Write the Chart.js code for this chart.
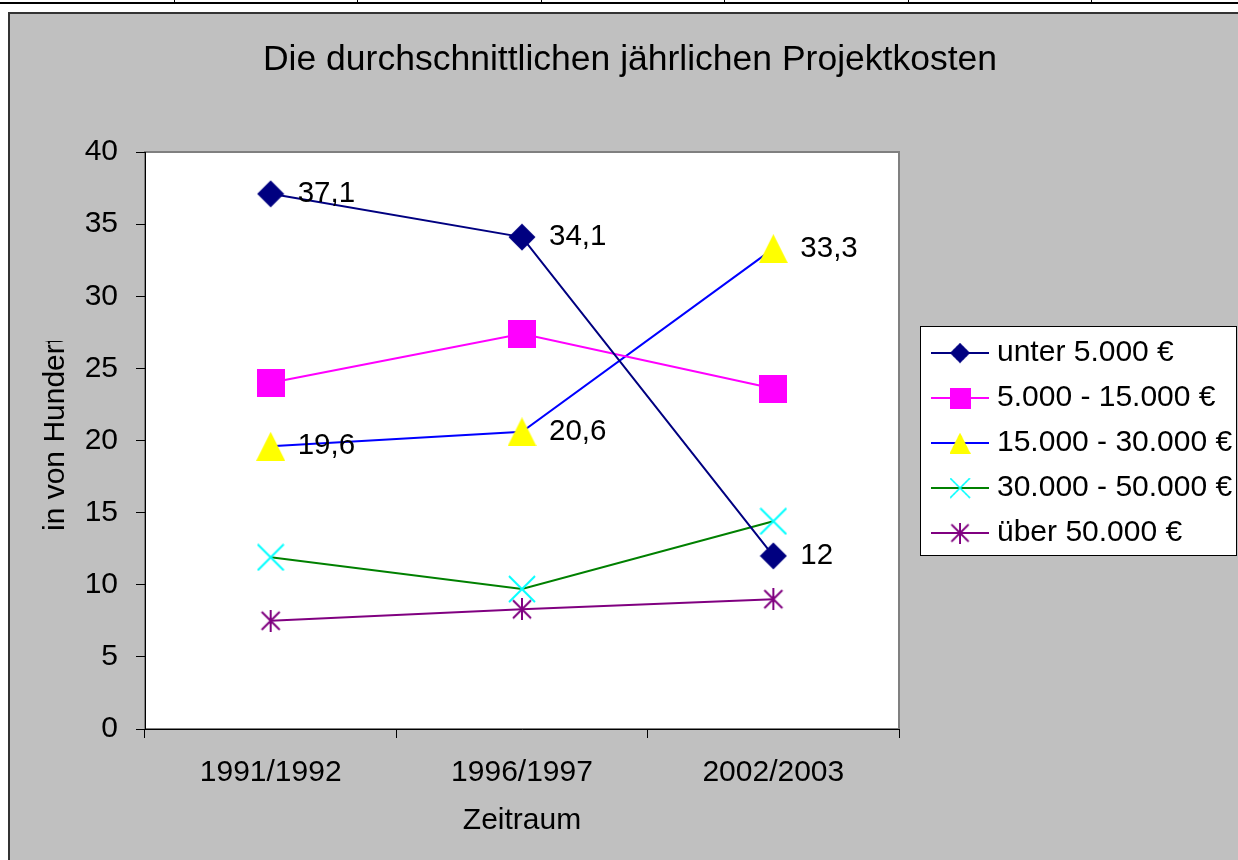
<!DOCTYPE html>
<html lang="de">
<head>
<meta charset="utf-8">
<title>Projektkosten</title>
<script src="https://cdn.jsdelivr.net/npm/chart.js@4/dist/chart.umd.min.js"></script>
<style>
  body { margin: 0; background: #fff; width: 1238px; height: 860px; overflow: hidden; position: relative; }
  .strip { position: absolute; left: 0; top: 0; width: 1238px; height: 2px; border-bottom: 2px solid #000; }
  .strip span { position: absolute; top: 0; width: 1px; height: 3px; background: #000; }
  .frame {
    position: absolute; left: 8px; top: 12px; right: 0; bottom: 0;
    background: #c0c0c0; border-left: 2px solid #333; border-top: 2px solid #333;
  }
  canvas { position: absolute; left: 0; top: 0; }
</style>
</head>
<body>
<div class="strip">
  <span style="left:174px"></span><span style="left:357px"></span><span style="left:541px"></span>
  <span style="left:724px"></span><span style="left:908px"></span><span style="left:1091px"></span>
</div>
<div class="frame"><canvas id="chart" width="1228" height="846"></canvas></div>
<script>
"use strict";

// ? values (in von Hundert)
const periods = ["1991/1992", "1996/1997", "2002/2003"];
const unter5000 = [37.1, 34.1, 12];
const von5000bis15000 = [24, 27.4, 23.6];
const von15000bis30000 = [19.6, 20.6, 33.3];
const von30000bis50000 = [11.9, 9.7, 14.4];
const ueber50000 = [7.5, 8.3, 9.0];

const seriesNames = [
  "unter 5.000 €",
  "5.000 - 15.000 €",
  "15.000 - 30.000 €",
  "30.000 - 50.000 €",
  "über 50.000 €",
];
const labelledSeries = [0, 2]; //! only these get value labels

const yMin = 0;
const yMax = 40;
const yStep = 5;

const FONT = "'Liberation Sans', Arial, sans-serif";

// marker images, drawn once and handed to chart.js as pointStyle
function marker(w, h, paint) {
  const c = document.createElement("canvas");
  c.width = w;
  c.height = h;
  paint(c.getContext("2d"), w, h);
  return c;
}

const diamond = marker(28, 28, (ctx, w, h) => {
  ctx.fillStyle = "#000080";
  ctx.beginPath();
  ctx.moveTo(w / 2, 0.5);
  ctx.lineTo(w - 0.5, h / 2);
  ctx.lineTo(w / 2, h - 0.5);
  ctx.lineTo(0.5, h / 2);
  ctx.closePath();
  ctx.fill();
});
const square = marker(28, 28, (ctx, w, h) => {
  ctx.fillStyle = "#ff00ff";
  ctx.fillRect(0, 0, w, h);
});
const triangle = marker(29, 29, (ctx, w, h) => {
  ctx.fillStyle = "#ffff00";
  ctx.beginPath();
  ctx.moveTo(w / 2, 0);
  ctx.lineTo(w, h);
  ctx.lineTo(0, h);
  ctx.closePath();
  ctx.fill();
});
const cross = marker(28, 28, (ctx, w, h) => {
  ctx.strokeStyle = "#00ffff";
  ctx.lineWidth = 2;
  ctx.beginPath();
  ctx.moveTo(1, 1);
  ctx.lineTo(w - 1, h - 1);
  ctx.moveTo(w - 1, 1);
  ctx.lineTo(1, h - 1);
  ctx.stroke();
});
const star = marker(22, 22, (ctx, w, h) => {
  ctx.strokeStyle = "#800080";
  ctx.lineWidth = 2;
  ctx.beginPath();
  ctx.moveTo(w / 2, 0);
  ctx.lineTo(w / 2, h);
  ctx.moveTo(2, 2);
  ctx.lineTo(w - 2, h - 2);
  ctx.moveTo(w - 2, 2);
  ctx.lineTo(2, h - 2);
  ctx.stroke();
});

const lineColors = ["#000080", "#ff00ff", "#0000ff", "#008000", "#800080"];
const markers = [diamond, square, triangle, cross, star];
const seriesValues = [unter5000, von5000bis15000, von15000bis30000, von30000bis50000, ueber50000];

const datasets = seriesValues.map((values, i) => ({
  label: seriesNames[i],
  data: values,
  borderColor: lineColors[i],
  backgroundColor: lineColors[i],
  borderWidth: 2,
  tension: 0,
  fill: false,
  pointStyle: markers[i],
  pointRadius: 12,
  pointHoverRadius: 12,
}));

// white plot area with the grey frame
const plotBackground = {
  id: "plotBackground",
  beforeDraw(chart) {
    const { ctx, chartArea: a } = chart;
    ctx.save();
    ctx.fillStyle = "#fff";
    ctx.fillRect(a.left, a.top, a.width, a.height);
    ctx.strokeStyle = "#808080";
    ctx.lineWidth = 2;
    ctx.strokeRect(a.left, a.top, a.width, a.height);
    ctx.restore();
  },
};

// "37,1" etc. to the right of the markers
const valueLabels = {
  id: "valueLabels",
  afterDatasetsDraw(chart) {
    const ctx = chart.ctx;
    ctx.save();
    ctx.font = "29.5px " + FONT;
    ctx.fillStyle = "#000";
    ctx.textAlign = "left";
    ctx.textBaseline = "middle";
    labelledSeries.forEach((d) => {
      chart.getDatasetMeta(d).data.forEach((pt, i) => {
        const txt = String(chart.data.datasets[d].data[i]).replace(".", ",");
        ctx.fillText(txt, pt.x + 27, pt.y);
      });
    });
    ctx.restore();
  },
};

// y title, cut at the top like in the original
const yTitle = {
  id: "yTitle",
  afterDraw(chart) {
    const ctx = chart.ctx;
    ctx.save();
    ctx.beginPath();
    ctx.rect(0, 327, 135, 500);
    ctx.clip();
    ctx.translate(54, 517);
    ctx.rotate(-Math.PI / 2);
    ctx.font = "30px " + FONT;
    ctx.fillStyle = "#000";
    ctx.textAlign = "left";
    ctx.textBaseline = "alphabetic";
    ctx.fillText("in von Hundert", 0, 0);
    ctx.restore();
  },
};

// legend as its own layout box on the right side
const sideLegend = {
  id: "sideLegend",
  beforeInit(chart) {
    const box = {
      position: "right",
      weight: 0,
      fullSize: false,
      options: {},
      left: 0, top: 0, right: 0, bottom: 0, width: 0, height: 0,
      isHorizontal() {
        return false;
      },
      update(maxWidth, maxHeight) {
        this.width = 339;
        this.height = maxHeight;
      },
      draw() {
        const ctx = chart.ctx;
        const a = chart.chartArea;
        const lx = this.left + 21;
        const ly = Math.round((a.top + a.bottom) / 2 - 115);
        ctx.save();
        ctx.fillStyle = "#fff";
        ctx.fillRect(lx, ly, 317, 230);
        ctx.strokeStyle = "#000";
        ctx.lineWidth = 1;
        ctx.strokeRect(lx + 0.5, ly + 0.5, 316, 229);
        ctx.font = "30px " + FONT;
        ctx.textAlign = "left";
        ctx.textBaseline = "middle";
        seriesNames.forEach((name, i) => {
          const y = ly + 27 + i * 45;
          ctx.strokeStyle = lineColors[i];
          ctx.lineWidth = 2;
          ctx.beginPath();
          ctx.moveTo(lx + 11, y);
          ctx.lineTo(lx + 69, y);
          ctx.stroke();
          ctx.drawImage(markers[i], lx + 40 - 10.5, y - 10.5, 21, 21);
          ctx.fillStyle = "#000";
          ctx.fillText(name, lx + 77, y);
        });
        ctx.restore();
      },
    };
    Chart.layouts.addBox(chart, box);
  },
};

Chart.defaults.font.family = FONT;
Chart.defaults.color = "#000";

const myChart = new Chart(document.getElementById("chart"), {
  type: "line",
  data: { labels: periods, datasets },
  options: {
    responsive: false,
    animation: false,
    events: [],
    layout: { padding: { left: 12, top: 0, right: 0, bottom: 0 } },
    plugins: {
      legend: { display: false },
      tooltip: { enabled: false },
      title: {
        display: true,
        text: "Die durchschnittlichen jährlichen Projektkosten",
        color: "#000",
        font: { size: 35.5, weight: "normal" },
        padding: { top: 25, bottom: 70.4 },
      },
    },
    scales: {
      x: {
        offset: true,
        grid: { offset: true, drawOnChartArea: false, tickLength: 9, color: "#000" },
        border: { color: "#000", width: 1 },
        ticks: { font: { size: 30 }, padding: 17, maxRotation: 0, color: "#000" },
        title: {
          display: true,
          text: "Zeitraum",
          font: { size: 30 },
          color: "#000",
          padding: { top: 0, bottom: 21 },
        },
        afterFit(scale) {
          scale.height = 131;
        },
      },
      y: {
        min: yMin,
        max: yMax,
        grid: { drawOnChartArea: false, tickLength: 9, color: "#000" },
        border: { color: "#000", width: 1 },
        ticks: { stepSize: yStep, font: { size: 30 }, padding: 18, color: "#000" },
        afterFit(scale) {
          scale.width = 123;
        },
      },
    },
  },
  plugins: [plotBackground, valueLabels, yTitle, sideLegend],
});
</script>
</body>
</html>
